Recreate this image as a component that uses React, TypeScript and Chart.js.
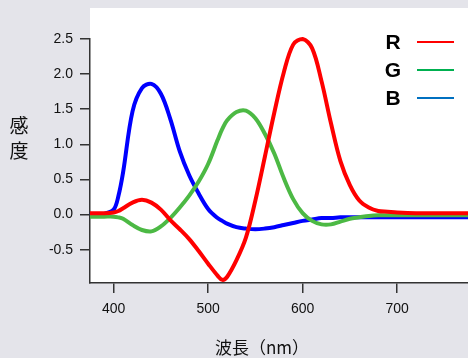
import React, { useEffect, useRef } from "react";
import { Chart, registerables } from "chart.js";

Chart.register(...registerables);

const wavelengths = [375, 390, 400, 405, 410, 420, 430, 440, 450, 460, 470, 480, 490, 500, 510, 515, 520, 530, 540, 550, 560, 570, 580, 590, 600, 610, 620, 630, 640, 650, 660, 670, 680, 690, 700, 720, 740, 760, 775];
const redValues = [0.02, 0.02, 0.03, 0.05, 0.09, 0.17, 0.21, 0.17, 0.07, -0.08, -0.21, -0.35, -0.52, -0.70, -0.87, -0.93, -0.89, -0.65, -0.33, 0.2, 0.82, 1.45, 2.02, 2.42, 2.5, 2.37, 1.9, 1.3, 0.76, 0.42, 0.2, 0.1, 0.05, 0.04, 0.03, 0.02, 0.02, 0.02, 0.02];
const greenValues = [-0.03, -0.03, -0.03, -0.04, -0.06, -0.15, -0.22, -0.24, -0.17, -0.05, 0.1, 0.27, 0.47, 0.72, 1.06, 1.22, 1.34, 1.46, 1.48, 1.37, 1.15, 0.87, 0.52, 0.22, 0.02, -0.09, -0.14, -0.14, -0.1, -0.06, -0.04, -0.02, -0.01, -0.01, -0.01, -0.01, -0.01, -0.01, -0.01];
const blueValues = [-0.01, 0.01, 0.07, 0.26, 0.6, 1.47, 1.8, 1.86, 1.72, 1.36, 0.9, 0.56, 0.3, 0.08, -0.05, -0.09, -0.13, -0.18, -0.2, -0.21, -0.2, -0.18, -0.15, -0.12, -0.09, -0.07, -0.05, -0.05, -0.04, -0.04, -0.04, -0.04, -0.04, -0.04, -0.04, -0.04, -0.04, -0.04, -0.04];
const xTicks = [400, 500, 600, 700];
const yTicks = [-0.5, 0.0, 0.5, 1.0, 1.5, 2.0, 2.5];
const legendLabels = ["R", "G", "B"];
const seriesColors = ["#ff0000", "#4cb944", "#0000ff"];
const legendColors = ["#ff0000", "#00b050", "#0070c0"];
const xTitle = "波長（nm）";
const yTitle = ["感", "度"];

const FONT = "'Liberation Sans', Arial, Helvetica, sans-serif";
const CJK = "'Noto Sans CJK JP', 'Noto Sans CJK SC', sans-serif";

export default function App() {
  const canvasRef = useRef<HTMLCanvasElement | null>(null);

  useEffect(() => {
    const canvas = canvasRef.current;
    if (!canvas) return;
    const series = [redValues, greenValues, blueValues];
    const whiteBg = {
      id: "whiteBg",
      beforeDraw(chart: any) {
        const { ctx, chartArea } = chart;
        ctx.save();
        ctx.fillStyle = "#ffffff";
        ctx.fillRect(chartArea.left, 8, chartArea.right - chartArea.left, chartArea.bottom - 8);
        ctx.restore();
      },
    };
    const chart = new Chart(canvas, {
      type: "line",
      data: {
        datasets: series.map((vals, i) => ({
          label: legendLabels[i],
          data: wavelengths.map((w, j) => ({ x: w, y: vals[j] })),
          borderColor: seriesColors[i],
          backgroundColor: seriesColors[i],
          borderWidth: 4,
          pointRadius: 0,
          tension: 0.35,
          fill: false,
          clip: false as any,
        })),
      },
      options: {
        animation: false,
        responsive: false,
        maintainAspectRatio: false,
        layout: { padding: { top: 39, right: 0, left: 0, bottom: 0 } },
        plugins: {
          legend: { display: false },
          tooltip: { enabled: false },
          title: { display: false },
        },
        scales: {
          x: {
            type: "linear",
            min: 375,
            max: 775,
            afterBuildTicks: (s: any) => {
              s.ticks = xTicks.map((v) => ({ value: v }));
            },
            afterFit: (s: any) => {
              s.height = 75;
            },
            ticks: {
              color: "#111",
              font: { family: FONT, size: 14 },
              padding: 8,
              maxRotation: 0,
              callback: (v: any) => String(v),
            },
            grid: {
              display: true,
              drawOnChartArea: false,
              drawTicks: true,
              tickLength: 10,
              color: "#333",
              lineWidth: 1.5,
            },
            border: { display: true, color: "#333", width: 1.5 },
          },
          y: {
            type: "linear",
            min: -0.975,
            max: 2.5,
            afterBuildTicks: (s: any) => {
              s.ticks = yTicks.map((v) => ({ value: v }));
            },
            afterFit: (s: any) => {
              s.width = 90;
            },
            ticks: {
              color: "#111",
              font: { family: FONT, size: 14 },
              padding: 7,
              callback: (v: any) => Number(v).toFixed(1),
            },
            grid: {
              display: true,
              drawOnChartArea: false,
              drawTicks: true,
              tickLength: 10,
              color: "#333",
              lineWidth: 1.5,
            },
            border: { display: true, color: "#333", width: 1.5 },
          },
        },
      },
      plugins: [whiteBg],
    });
    return () => chart.destroy();
  }, []);

  const legendTops = [31, 59, 87];

  return (
    <div
      style={{
        position: "absolute",
        left: 0,
        top: 0,
        width: 468,
        height: 358,
        background: "#e4e4ea",
        overflow: "hidden",
      }}
    >
      <canvas ref={canvasRef} width={468} height={358} style={{ position: "absolute", left: 0, top: 0, width: 468, height: 358 }} />
      {legendLabels.map((lab, i) => (
        <React.Fragment key={lab}>
          <div
            style={{
              position: "absolute",
              left: 382,
              top: legendTops[i],
              width: 22,
              textAlign: "center",
              fontFamily: FONT,
              fontWeight: "bold",
              fontSize: 21,
              lineHeight: "22px",
              color: "#000",
            }}
          >
            {lab}
          </div>
          <div
            style={{
              position: "absolute",
              left: 417,
              top: legendTops[i] + 10,
              width: 37,
              height: 2,
              background: legendColors[i],
            }}
          />
        </React.Fragment>
      ))}
      <div
        style={{
          position: "absolute",
          left: 7,
          top: 112,
          width: 24,
          textAlign: "center",
          fontFamily: CJK,
          fontSize: 19,
          lineHeight: "25px",
          color: "#111",
        }}
      >
        {yTitle.map((c) => (
          <div key={c}>{c}</div>
        ))}
      </div>
      <div
        style={{
          position: "absolute",
          left: 162,
          top: 335,
          width: 200,
          textAlign: "center",
          fontFamily: CJK,
          fontSize: 17,
          lineHeight: "24px",
          color: "#111",
        }}
      >
        {xTitle}
      </div>
    </div>
  );
}
